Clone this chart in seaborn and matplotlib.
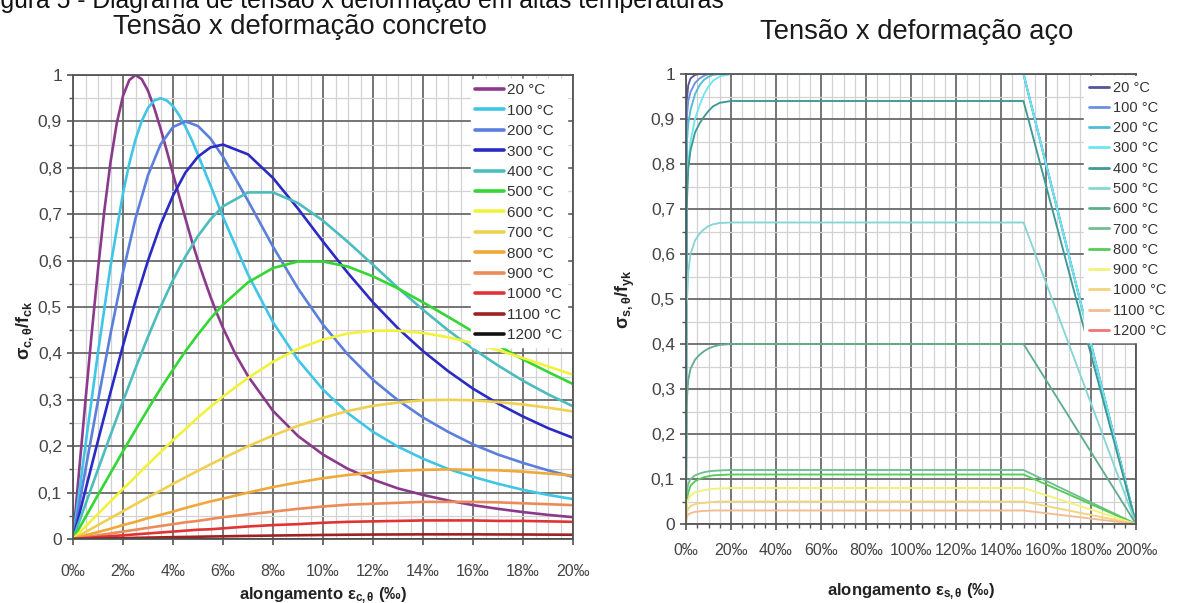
import matplotlib
matplotlib.use("Agg")
import numpy as np
import pandas as pd
import seaborn as sns
import matplotlib.pyplot as plt
from matplotlib import font_manager
from matplotlib.ticker import MultipleLocator, FixedLocator, FixedFormatter

# ---------------- data ----------------
temps = ["20 °C", "100 °C", "200 °C", "300 °C", "400 °C", "500 °C", "600 °C",
         "700 °C", "800 °C", "900 °C", "1000 °C", "1100 °C", "1200 °C"]

# concrete: strain (‰) and sigma/fck
conc_strain = [0, 0.5, 1, 1.5, 2, 2.5, 3, 3.5, 4, 4.5, 5, 5.5, 6, 7, 8, 9, 10,
               11, 12, 13, 14, 15, 16, 17, 18, 19, 20]
c20_strain = [0, 0.25, 0.5, 0.75, 1, 1.25, 1.5, 1.75, 2, 2.25, 2.5, 2.75, 3, 3.25, 3.5,
              3.75, 4, 4.25, 4.5, 4.75, 5, 5.25, 5.5, 5.75, 6, 6.5, 7, 8, 9, 10, 11, 12,
              13, 14, 15, 16, 17, 18, 19, 20]
c20 = [0, 0.150, 0.299, 0.444, 0.581, 0.706, 0.812, 0.896, 0.955, 0.989, 1.0, 0.991, 0.966,
       0.929, 0.885, 0.837, 0.787, 0.738, 0.690, 0.643, 0.600, 0.560, 0.522, 0.487, 0.455,
       0.398, 0.351, 0.276, 0.222, 0.182, 0.151, 0.128, 0.109, 0.095, 0.083, 0.073, 0.065,
       0.058, 0.052, 0.047]
c100_strain = [0, 0.5, 1, 1.5, 2, 2.25, 2.5, 2.75, 3, 3.25, 3.5, 3.75, 4, 4.25, 4.5, 4.75, 5,
               5.5, 6, 7, 8, 9, 10, 11, 12, 13, 14, 15, 16, 17, 18, 19, 20]
c100 = [0, 0.203, 0.402, 0.588, 0.745, 0.809, 0.861, 0.901, 0.929, 0.945, 0.950, 0.945, 0.933,
        0.913, 0.888, 0.860, 0.828, 0.762, 0.694, 0.570, 0.467, 0.386, 0.322, 0.271, 0.231,
        0.199, 0.173, 0.151, 0.134, 0.119, 0.106, 0.095, 0.086]
c200 = [0, 0.150, 0.298, 0.442, 0.575, 0.691, 0.784, 0.850, 0.888, 0.900, 0.890, 0.863, 0.824, 0.729, 0.630, 0.540, 0.462, 0.397, 0.343, 0.299, 0.262, 0.231, 0.204, 0.182, 0.164, 0.148, 0.134]
c300 = [0, 0.106, 0.212, 0.316, 0.417, 0.513, 0.600, 0.677, 0.740, 0.790, 0.824, 0.844, 0.850, 0.829, 0.778, 0.712, 0.641, 0.573, 0.510, 0.454, 0.405, 0.362, 0.324, 0.292, 0.264, 0.239, 0.218]
c400 = [0, 0.075, 0.150, 0.224, 0.297, 0.368, 0.436, 0.500, 0.558, 0.609, 0.653, 0.689, 0.717, 0.747, 0.747, 0.724, 0.686, 0.640, 0.591, 0.541, 0.494, 0.450, 0.410, 0.374, 0.341, 0.312, 0.286]
c500 = [0, 0.047, 0.095, 0.142, 0.189, 0.235, 0.280, 0.324, 0.365, 0.405, 0.441, 0.475, 0.505, 0.553, 0.584, 0.598, 0.598, 0.587, 0.566, 0.540, 0.510, 0.479, 0.447, 0.417, 0.387, 0.360, 0.334]
c600 = [0, 0.027, 0.054, 0.081, 0.108, 0.134, 0.161, 0.187, 0.213, 0.237, 0.262, 0.285, 0.307, 0.347, 0.382, 0.410, 0.430, 0.443, 0.449, 0.449, 0.444, 0.435, 0.422, 0.407, 0.390, 0.372, 0.354]
c700 = [0, 0.015, 0.030, 0.045, 0.060, 0.075, 0.090, 0.104, 0.119, 0.133, 0.147, 0.161, 0.174, 0.200, 0.223, 0.244, 0.261, 0.276, 0.287, 0.294, 0.299, 0.300, 0.299, 0.295, 0.290, 0.283, 0.275]
c800 = [0, 0.008, 0.015, 0.022, 0.030, 0.037, 0.045, 0.052, 0.059, 0.067, 0.074, 0.081, 0.087, 0.100, 0.112, 0.122, 0.131, 0.138, 0.143, 0.147, 0.149, 0.150, 0.149, 0.148, 0.145, 0.141, 0.137]
c900 = [0, 0.004, 0.008, 0.012, 0.016, 0.020, 0.024, 0.028, 0.032, 0.036, 0.039, 0.043, 0.047, 0.053, 0.059, 0.065, 0.070, 0.074, 0.076, 0.078, 0.080, 0.080, 0.080, 0.079, 0.077, 0.075, 0.073]
c1000 = [0, 0.002, 0.004, 0.006, 0.008, 0.010, 0.012, 0.014, 0.016, 0.018, 0.020, 0.021, 0.023, 0.027, 0.030, 0.032, 0.035, 0.037, 0.038, 0.039, 0.040, 0.040, 0.040, 0.039, 0.039, 0.038, 0.037]
c1100 = [0, 0.0005, 0.001, 0.0015, 0.002, 0.0025, 0.003, 0.0035, 0.004, 0.0044, 0.0049, 0.0054, 0.0058, 0.0067, 0.0074, 0.0081, 0.0087, 0.0092, 0.0096, 0.0098, 0.010, 0.010, 0.010, 0.0098, 0.0097, 0.0094, 0.0092]
c1200 = [0, 0, 0, 0, 0, 0, 0, 0, 0, 0, 0, 0, 0, 0, 0, 0, 0, 0, 0, 0, 0, 0, 0, 0, 0, 0, 0]

# steel: strain (‰) and sigma/fyk
steel_strain = [0, 0.3, 1, 2, 4, 6, 8, 10, 12, 15, 20, 150, 200]
s20 = [0, 0.94, 0.975, 0.99, 0.998, 1.0, 1.0, 1.0, 1.0, 1.0, 1.0, 1.0, 0]
s100 = [0, 0.90, 0.94, 0.96, 0.98, 0.99, 0.996, 1.0, 1.0, 1.0, 1.0, 1.0, 0]
s200 = [0, 0.84, 0.89, 0.92, 0.955, 0.975, 0.987, 0.994, 0.998, 1.0, 1.0, 1.0, 0]
s300 = [0, 0.74, 0.80, 0.85, 0.90, 0.93, 0.955, 0.972, 0.985, 0.995, 1.0, 1.0, 0]
s400 = [0, 0.70, 0.79, 0.83, 0.87, 0.89, 0.905, 0.918, 0.928, 0.936, 0.94, 0.94, 0]
s500 = [0, 0.48, 0.56, 0.60, 0.63, 0.645, 0.655, 0.662, 0.666, 0.669, 0.67, 0.67, 0]
s600 = [0, 0.27, 0.32, 0.345, 0.365, 0.376, 0.384, 0.39, 0.394, 0.398, 0.40, 0.40, 0]
s700 = [0, 0.07, 0.09, 0.10, 0.108, 0.112, 0.115, 0.117, 0.118, 0.119, 0.12, 0.12, 0]
s800 = [0, 0.05, 0.07, 0.085, 0.095, 0.10, 0.104, 0.106, 0.108, 0.109, 0.11, 0.11, 0]
s900 = [0, 0.04, 0.055, 0.063, 0.07, 0.073, 0.075, 0.077, 0.078, 0.079, 0.08, 0.08, 0]
s1000 = [0, 0.025, 0.034, 0.04, 0.044, 0.046, 0.047, 0.048, 0.049, 0.05, 0.05, 0.05, 0]
s1100 = [0, 0.015, 0.021, 0.024, 0.027, 0.028, 0.029, 0.0295, 0.03, 0.03, 0.03, 0.03, 0]
s1200 = [0, 0, 0, 0, 0, 0, 0, 0, 0, 0, 0, 0, 0]

conc_colors = ["#8b3a8b", "#3fc6e6", "#5b7fdc", "#2a2ac4", "#4cbcbc", "#33d633", "#f2f23c",
               "#f0d050", "#f0a838", "#ec8a58", "#e03434", "#9e2222", "#111111"]
steel_colors = ["#55559a", "#6f8fe3", "#4fbcd8", "#6ee6f2", "#3d9a92", "#86d6d6", "#62ad8c",
                "#72bd92", "#55cc55", "#f2f27a", "#f2d47a", "#f2bc92", "#f27474"]

conc_x_labels = ["0‰", "2‰", "4‰", "6‰", "8‰", "10‰", "12‰", "14‰", "16‰", "18‰", "20‰"]
steel_x_labels = ["0‰", "20‰", "40‰", "60‰", "80‰", "100‰", "120‰", "140‰", "160‰", "180‰", "200‰"]
y_labels = ["0", "0,1", "0,2", "0,3", "0,4", "0,5", "0,6", "0,7", "0,8", "0,9", "1"]

# ---------------- style ----------------
sns.set_theme(style="white")
avail = {f.name for f in font_manager.fontManager.ttflist}
base = "Liberation Sans" if "Liberation Sans" in avail else "DejaVu Sans"
narrow = "Liberation Sans Narrow" if "Liberation Sans Narrow" in avail else base
plt.rcParams["font.family"] = [base, "DejaVu Sans"]
plt.rcParams["mathtext.fontset"] = "custom"
plt.rcParams["mathtext.rm"] = base
plt.rcParams["mathtext.it"] = base + ":italic"
plt.rcParams["mathtext.bf"] = base + ":bold"

W, H = 1178, 603
fig = plt.figure(figsize=(W / 100, H / 100), dpi=100)
fig.patch.set_facecolor("white")


def px_axes(x0, y0, x1, y1):
    return fig.add_axes([x0 / W, 1 - y1 / H, (x1 - x0) / W, (y1 - y0) / H])


ax1 = px_axes(73, 75, 573, 539)
ax2 = px_axes(686, 74, 1136, 524)

conc_pairs = [(c20_strain, c20), (c100_strain, c100), (conc_strain, c200), (conc_strain, c300),
              (conc_strain, c400), (conc_strain, c500), (conc_strain, c600), (conc_strain, c700),
              (conc_strain, c800), (conc_strain, c900), (conc_strain, c1000),
              (conc_strain, c1100), (conc_strain, c1200)]
steel_series = [s20, s100, s200, s300, s400, s500, s600, s700, s800, s900, s1000, s1100, s1200]

conc_df = pd.concat([pd.DataFrame({"strain": xs, "stress": ys, "T": t})
                     for t, (xs, ys) in zip(temps, conc_pairs)], ignore_index=True)
steel_df = pd.concat([pd.DataFrame({"strain": steel_strain, "stress": ys, "T": t})
                      for t, ys in zip(temps, steel_series)], ignore_index=True)

sns.lineplot(data=conc_df, x="strain", y="stress", hue="T", hue_order=temps,
             palette=conc_colors, sort=False, estimator=None, units="T",
             lw=1.9, ax=ax1, legend=True)
sns.lineplot(data=steel_df, x="strain", y="stress", hue="T", hue_order=temps,
             palette=steel_colors, sort=False, estimator=None, units="T",
             lw=1.35, ax=ax2, legend=True)

grid_major = "#6a6a6a"
grid_minor = "#d2d2d2"
tick_col = "#444444"


def style_axes(ax, xmax, xminor, xlabels, xtick_minor_len, xpad):
    ax.set_xlim(0, xmax)
    ax.set_ylim(0, 1)
    ax.xaxis.set_major_locator(FixedLocator(np.linspace(0, xmax, 11)))
    ax.xaxis.set_major_formatter(FixedFormatter(xlabels))
    ax.xaxis.set_minor_locator(MultipleLocator(xminor))
    ax.yaxis.set_major_locator(FixedLocator(np.linspace(0, 1, 11)))
    ax.yaxis.set_major_formatter(FixedFormatter(y_labels))
    ax.yaxis.set_minor_locator(MultipleLocator(0.05))
    ax.grid(which="major", color=grid_major, lw=1.3)
    ax.grid(which="minor", color=grid_minor, lw=0.9)
    ax.set_axisbelow(True)
    for s in ax.spines.values():
        s.set_color("#555555")
        s.set_linewidth(1.3)
    ax.tick_params(axis="both", which="both", direction="out", color="#555555")
    ax.tick_params(axis="x", which="major", bottom=True, length=4, width=1.2, pad=xpad,
                   labelsize=11.5, labelcolor=tick_col)
    ax.tick_params(axis="x", which="minor", bottom=True, length=xtick_minor_len, width=1.0)
    ax.tick_params(axis="y", which="major", left=True, length=4, width=1.2, pad=4,
                   labelsize=12.5, labelcolor=tick_col)
    ax.tick_params(axis="y", which="minor", left=True, length=3, width=1.0)
    for lab in ax.get_xticklabels() + ax.get_yticklabels():
        lab.set_fontfamily([narrow, "DejaVu Sans"])


style_axes(ax1, 20, 0.5, conc_x_labels, 0, 14)
style_axes(ax2, 200, 5, steel_x_labels, 3, 10)

# titles (pixel placed)
fig.text(300 / W, 1 - 34 / H, "Tensão x deformação concreto", fontsize=19.7,
         color="#1a1a1a", ha="center", va="baseline")
fig.text(917 / W, 1 - 39 / H, "Tensão x deformação aço", fontsize=19.7,
         color="#1a1a1a", ha="center", va="baseline")

# axis labels
ax1.set_ylabel(r"$\mathbf{\sigma_{c,\theta}/f_{ck}}$", fontsize=13, color="#222222")
ax1.yaxis.set_label_coords(-37 / 500, 0.45)
ax2.set_ylabel(r"$\mathbf{\sigma_{s,\theta}/f_{yk}}$", fontsize=13, color="#222222")
ax2.yaxis.set_label_coords(-49 / 450, 0.50)
ax1.set_xlabel("alongamento " + r"$\mathbf{\varepsilon_{c,\theta}}$" + " (‰)", fontsize=12,
               fontweight="bold", color="#222222")
ax1.xaxis.set_label_coords(0.5, -46 / 464)
ax2.set_xlabel("alongamento " + r"$\mathbf{\varepsilon_{s,\theta}}$" + " (‰)", fontsize=12,
               fontweight="bold", color="#222222")
ax2.xaxis.set_label_coords(0.5, -57 / 450)

# legends
h1, l1 = ax1.get_legend_handles_labels()
leg1 = ax1.legend(h1, l1, loc="upper right", bbox_to_anchor=(0.988, 0.992), fontsize=11,
                  frameon=True, facecolor="white", edgecolor="white", framealpha=1,
                  handlelength=1.9, handletextpad=0.2, labelspacing=0.42, borderpad=0.3,
                  borderaxespad=0)
for t in leg1.get_texts():
    t.set_color("#333333")
    t.set_fontfamily([narrow, "DejaVu Sans"])
for ln in leg1.get_lines():
    ln.set_linewidth(2.6)

h2, l2 = ax2.get_legend_handles_labels()
leg2 = ax2.legend(h2, l2, loc="upper left", bbox_to_anchor=(0.885, 0.995), fontsize=10.5,
                  frameon=True, facecolor="white", edgecolor="white", framealpha=1,
                  handlelength=1.4, handletextpad=0.25, labelspacing=0.43, borderpad=0.3,
                  borderaxespad=0)
for t in leg2.get_texts():
    t.set_color("#333333")
    t.set_fontfamily([narrow, "DejaVu Sans"])
for ln in leg2.get_lines():
    ln.set_linewidth(2.0)

# cropped figure caption at the very top (cut off in the reference too)
fig.text(-20 / W, 1 - 8 / H, "Figura 5 - Diagrama de tensão x deformação em altas temperaturas",
         fontsize=17.8, color="#111111", ha="left", va="baseline")

fig.savefig("out.png", dpi=100, facecolor="white")
